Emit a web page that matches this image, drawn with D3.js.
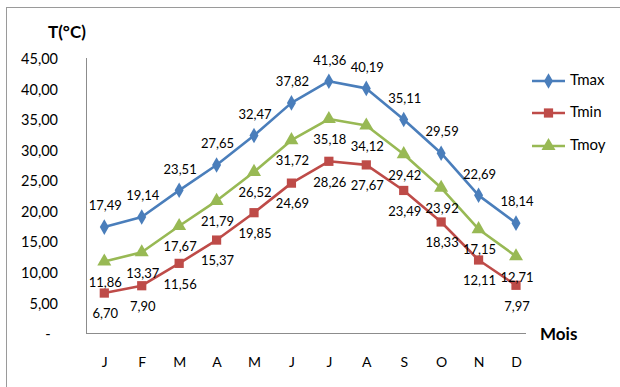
<!DOCTYPE html>
<html><head><meta charset="utf-8">
<script src="https://cdn.jsdelivr.net/npm/d3@7"></script>
<style>body{margin:0;background:#fff}svg{display:block}text{font-family:Lato,"Open Sans",sans-serif}</style>
</head><body><svg id="c" width="620" height="387"></svg>
<script>
const months = ["J","F","M","A","M","J","J","A","S","O","N","D"];
const tmax = [17.49,19.14,23.51,27.65,32.47,37.82,41.36,40.19,35.11,29.59,22.69,18.14];
const tmin = [6.70,7.90,11.56,15.37,19.85,24.69,28.26,27.67,23.49,18.33,12.11,7.97];
const tmoy = [11.86,13.37,17.67,21.79,26.52,31.72,35.18,34.12,29.42,23.92,17.15,12.71];
const yTicks = [0,5,10,15,20,25,30,35,40,45];
const seriesNames = ["Tmax","Tmin","Tmoy"];
const colors = ["#4A7EBB","#BE4B48","#98B954"];
const symbols = [d3.symbolDiamond, d3.symbolSquare, d3.symbolTriangle];
const symSizes = [70, 85, 85];
const labelDy = [-20, 22, 22];

const svg = d3.select("#c");
const fmt = v => v === 0 ? "-" : d3.format(".2f")(v).replace(".", ",");

// frame
svg.append("rect").attr("x",6.5).attr("y",7.5).attr("width",700).attr("height",500)
  .attr("fill","none").attr("stroke","#9a9a9a").attr("stroke-width",1);

const x = d3.scalePoint().domain(d3.range(12)).range([104.3, 516]);
const y = d3.scaleLinear().domain([0,45]).range([334,59]);

// axes lines
svg.append("line").attr("x1",86.5).attr("x2",86.5).attr("y1",58).attr("y2",334)
  .attr("stroke","#8c8c8c").attr("stroke-width",1);
svg.append("line").attr("x1",86).attr("x2",526).attr("y1",333.5).attr("y2",333.5)
  .attr("stroke","#8c8c8c").attr("stroke-width",1);

// y tick labels
const yAxis = d3.axisLeft(y).tickValues(yTicks).tickSize(0).tickPadding(0).tickFormat(fmt);
const ga = svg.append("g").attr("transform","translate(58,0)").call(yAxis);
ga.select(".domain").remove();
ga.selectAll("text").attr("font-size",14.5).attr("fill","#000").style("font-family","Lato,sans-serif")
  .each(function(d){ if(d===0){ d3.select(this).attr("text-anchor","middle").attr("x",-10); } });

// x tick labels
const xAxis = d3.axisBottom(x).tickSize(0).tickPadding(0).tickFormat(i => months[i]);
const gx = svg.append("g").attr("transform","translate(0,357)").call(xAxis);
gx.select(".domain").remove();
gx.selectAll("text").attr("font-size",14).attr("fill","#000").style("font-family","Lato,sans-serif");

// axis titles
svg.append("text").attr("x",48).attr("y",38).attr("font-size",17).attr("font-weight","bold").text("T(°C)");
svg.append("text").attr("x",540).attr("y",340).attr("font-size",17).attr("font-weight","bold").text("Mois");

const data = [tmax, tmin, tmoy];
const line = d3.line().x((d,i)=>x(i)).y(d=>y(d));

data.forEach((vals, s) => {
  const g = svg.append("g");
  g.append("path").datum(vals).attr("d", line).attr("fill","none")
    .attr("stroke", colors[s]).attr("stroke-width",2.6).attr("stroke-linejoin","round");
  g.selectAll("path.m").data(vals).join("path").attr("class","m")
    .attr("d", d3.symbol().type(symbols[s]).size(symSizes[s]))
    .attr("transform",(d,i)=>`translate(${x(i)},${y(d)})`).attr("fill",colors[s]);
});
data.forEach((vals, s) => {
  svg.append("g").selectAll("text").data(vals).join("text")
    .attr("x",(d,i)=>x(i)+1).attr("y",d=>y(d)+labelDy[s])
    .attr("dominant-baseline","middle").attr("text-anchor","middle")
    .attr("font-size",13).attr("fill","#000").text(fmt);
});

// legend
const legY = [81, 113, 146];
seriesNames.forEach((n, s) => {
  const g = svg.append("g").attr("transform",`translate(0,${legY[s]})`);
  g.append("line").attr("x1",532).attr("x2",565).attr("y1",0).attr("y2",0)
    .attr("stroke",colors[s]).attr("stroke-width",2.6);
  g.append("path").attr("d", d3.symbol().type(symbols[s]).size(symSizes[s]))
    .attr("transform","translate(548.5,0)").attr("fill",colors[s]);
  g.append("text").attr("x",570).attr("y",0).attr("dominant-baseline","middle")
    .attr("font-size",15).attr("fill","#000").text(n);
});
</script></body></html>
